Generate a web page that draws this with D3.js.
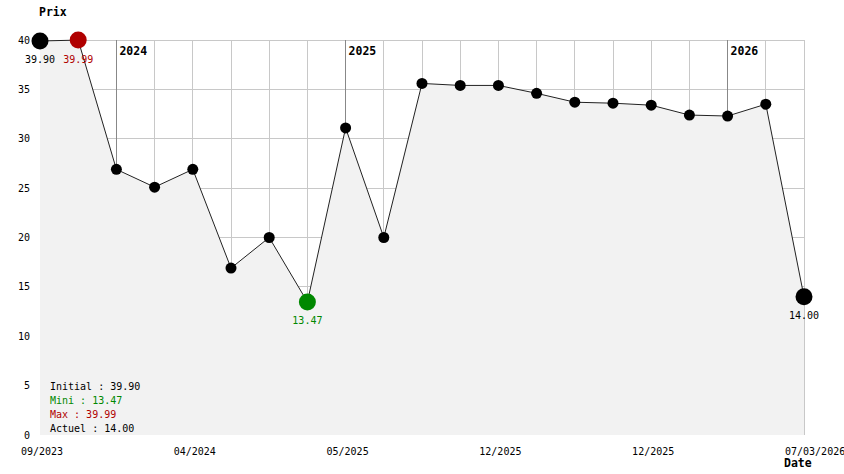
<!DOCTYPE html>
<html>
<head>
<meta charset="utf-8">
<script src="https://cdn.jsdelivr.net/npm/d3@7"></script>
<style>
  html, body { margin: 0; padding: 0; background: #fff; }
  svg { display: block; }
  text { font-family: "DejaVu Sans Mono", "Liberation Mono", monospace; font-size: 10px; }
  .bold { font-weight: bold; font-size: 11.5px; }
</style>
</head>
<body>
<svg id="chart" width="844" height="474"></svg>
<script>
// ---- data ----
const prices = [39.90, 39.99, 26.9, 25.1, 26.9, 16.9, 20.0, 13.47, 31.1, 20.0, 35.6, 35.4, 35.4, 34.6, 33.7, 33.6, 33.4, 32.4, 32.3, 33.5, 14.00];
const xTickIndex = [0, 4, 8, 12, 16, 20];
const xTickLabels = ["09/2023", "04/2024", "05/2025", "12/2025", "12/2025", "07/03/2026"];
const yTicks = [0, 5, 10, 15, 20, 25, 30, 35, 40];
const yearIndex = [2, 8, 18];
const yearLabels = ["2024", "2025", "2026"];
const legendLabels = ["Initial : 39.90", "Mini : 13.47", "Max : 39.99", "Actuel : 14.00"];
const legendColors = ["#000", "#008800", "#b00000", "#000"];
const highlights = [
  { i: 0, color: "#000", label: "39.90" },
  { i: 1, color: "#b00000", label: "39.99" },
  { i: 7, color: "#008800", label: "13.47" },
  { i: 20, color: "#000", label: "14.00" }
];

const svg = d3.select("#chart");
const x = d3.scaleLinear().domain([0, prices.length - 1]).range([40, 804]);
const y = d3.scaleLinear().domain([0, 40]).range([435, 40]);

// grid
const grid = svg.append("g").attr("shape-rendering", "crispEdges");
grid.selectAll("line.h").data(yTicks.filter(d => d > 0)).join("line")
  .attr("x1", x(0)).attr("x2", x(prices.length - 1))
  .attr("y1", d => y(d)).attr("y2", d => y(d))
  .attr("stroke", "#c8c8c8");
grid.selectAll("line.v").data(d3.range(prices.length)).join("line")
  .attr("x1", d => x(d)).attr("x2", d => x(d))
  .attr("y1", y(40)).attr("y2", y(0))
  .attr("stroke", "#c8c8c8");

// area
const area = d3.area().x((d, i) => x(i)).y0(y(0)).y1(d => y(d));
svg.append("path").datum(prices).attr("d", area).attr("fill", "#f2f2f2");

// year lines
svg.append("g").attr("shape-rendering", "crispEdges")
  .selectAll("line").data(yearIndex).join("line")
  .attr("x1", d => x(d)).attr("x2", d => x(d))
  .attr("y1", y(40)).attr("y2", d => y(prices[d]))
  .attr("stroke", "#888");
svg.append("g").selectAll("text").data(yearIndex).join("text")
  .attr("class", "bold")
  .attr("x", d => x(d) + 3).attr("y", 51)
  .attr("dominant-baseline", "central")
  .text((d, k) => yearLabels[k]);

// line
const line = d3.line().x((d, i) => x(i)).y(d => y(d));
svg.append("path").datum(prices).attr("d", line)
  .attr("fill", "none").attr("stroke", "#222").attr("stroke-width", 1);

// small points
const hiSet = new Set(highlights.map(h => h.i));
svg.append("g").selectAll("circle").data(prices.map((v, i) => ({ v, i })).filter(d => !hiSet.has(d.i))).join("circle")
  .attr("cx", d => x(d.i)).attr("cy", d => y(d.v)).attr("r", 5.5).attr("fill", "#000");

// highlight points
svg.append("g").selectAll("circle").data(highlights).join("circle")
  .attr("cx", d => x(d.i)).attr("cy", d => y(prices[d.i])).attr("r", 8.5).attr("fill", d => d.color);
svg.append("g").selectAll("text").data(highlights).join("text")
  .attr("x", d => x(d.i)).attr("y", d => y(prices[d.i]) + 19)
  .attr("text-anchor", "middle").attr("dominant-baseline", "central")
  .attr("fill", d => d.color)
  .text(d => d.label);

// y axis labels
svg.append("g").selectAll("text").data(yTicks).join("text")
  .attr("x", 30).attr("y", d => y(d))
  .attr("text-anchor", "end").attr("dominant-baseline", "central")
  .text(d => d);

// x axis labels
svg.append("g").selectAll("text").data(xTickIndex).join("text")
  .attr("x", (d, k) => k === xTickIndex.length - 1 ? x(d) - 19 : x(d) + 2)
  .attr("y", 451)
  .attr("text-anchor", (d, k) => k === xTickIndex.length - 1 ? "start" : "middle")
  .attr("dominant-baseline", "central")
  .text((d, k) => xTickLabels[k]);

// axis titles
svg.append("text").attr("class", "bold").attr("x", 39).attr("y", 12)
  .attr("dominant-baseline", "central").text("Prix");
svg.append("text").attr("class", "bold").attr("x", 784).attr("y", 463)
  .attr("dominant-baseline", "central").text("Date");

// legend
svg.append("g").selectAll("text").data(legendLabels).join("text")
  .attr("x", 50).attr("y", (d, i) => 386 + i * 14)
  .attr("dominant-baseline", "central")
  .attr("fill", (d, i) => legendColors[i])
  .text(d => d);
</script>
</body>
</html>
